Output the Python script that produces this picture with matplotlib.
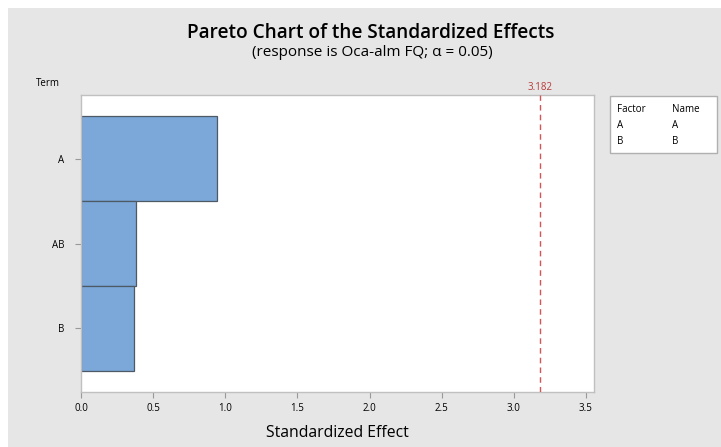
import matplotlib.pyplot as plt
from matplotlib.patches import Rectangle
from matplotlib.transforms import blended_transform_factory

# standardized effects, largest first
terms = ['A', 'AB', 'B']
effects = [0.94, 0.38, 0.37]
critical = 3.182
factors = ['A', 'B']
names = ['A', 'B']
xticks = [0.0, 0.5, 1.0, 1.5, 2.0, 2.5, 3.0, 3.5]

plt.rcParams['font.family'] = ['Open Sans', 'DejaVu Sans']

W, H = 721, 447
fig = plt.figure(figsize=(W / 100, H / 100), dpi=100)
fig.patch.set_facecolor('white')

# grey panel behind everything
fig.add_artist(Rectangle((8 / W, 0), 1, 1 - 8 / H, transform=fig.transFigure,
                         facecolor='#e6e6e6', edgecolor='none', zorder=0))

ax = fig.add_axes([81 / W, 1 - 392 / H, (594 - 81) / W, (392 - 95) / H])
ax.set_facecolor('white')

pos = list(range(len(terms)))
ax.barh(pos, effects, height=1.0, color='#7ba7d9', edgecolor='#4d5a66',
        linewidth=0.9, zorder=2)
ax.axvline(critical, color='#d4545a', linestyle=(0, (4, 3)), linewidth=1, zorder=3)
trans = blended_transform_factory(ax.transData, ax.transAxes)
ax.text(critical, 1.008, f'{critical:.3f}', color='#b83a3a', fontsize=7,
        ha='center', va='bottom', transform=trans)

ax.set_xlim(0, 3.556)
ax.set_ylim(2.75, -0.75)
ax.set_yticks(pos)
ax.set_yticklabels(terms, fontsize=7)
ax.set_xticks(xticks)
ax.set_xticklabels([f'{t:.1f}' for t in xticks], fontsize=7)
ax.tick_params(axis='both', direction='out', length=4, color='#999999', pad=4)
ax.tick_params(axis='y', pad=8)
for s in ax.spines.values():
    s.set_color('#c0c0c0')
    s.set_linewidth(1)

ax.set_xlabel('Standardized Effect', fontsize=11.3, labelpad=8)

fig.text(48 / W, 1 - 84 / H, 'Term', fontsize=7, ha='center', va='center')
fig.text(371 / W, 1 - 33 / H, 'Pareto Chart of the Standardized Effects',
         fontsize=13.7, fontweight='semibold', ha='center', va='center')
fig.text(372 / W, 1 - 52 / H, '(response is Oca-alm FQ; α = 0.05)',
         fontsize=11, ha='center', va='center')

# factor / name key
key = Rectangle((610 / W, 1 - 153 / H), 107 / W, 57 / H, transform=fig.transFigure,
                facecolor='white', edgecolor='#b0b0b0', linewidth=1)
fig.add_artist(key)
fig.text(617 / W, 1 - 110 / H, 'Factor', fontsize=7, va='center')
fig.text(672 / W, 1 - 110 / H, 'Name', fontsize=7, va='center')
for i, (f, n) in enumerate(zip(factors, names)):
    y = 1 - (126 + 15 * i) / H
    fig.text(617 / W, y, f, fontsize=7, va='center')
    fig.text(672 / W, y, n, fontsize=7, va='center')

fig.savefig('out.png', dpi=100)
